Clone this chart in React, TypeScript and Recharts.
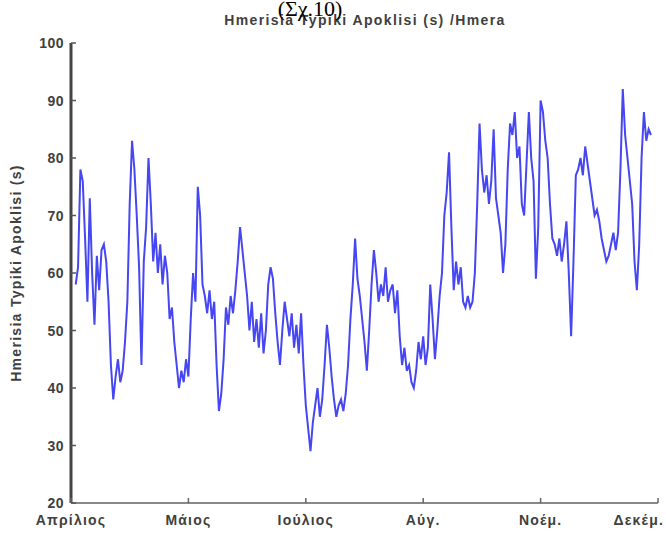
import React from "react";
import { LineChart, Line, XAxis, YAxis } from "recharts";

// x axis: day index from the start of the series, labelled by month
const DAY_TICKS = [0, 50, 100, 150, 200, 250];
const MONTH_LABELS = ["Απρίλιος", "Μάιος", "Ιούλιος", "Αύγ.", "Νοέμ.", "Δεκέμ."];
const Y_TICKS = [20, 30, 40, 50, 60, 70, 80, 90, 100];
const FIRST_DAY = 2;

// daily standard deviation (s)
const STD_DEV = [
  58, 61, 78, 76, 66, 55, 73, 60, 51, 63,
  57, 64, 65, 62, 55, 44, 38, 42, 45, 41,
  43, 48, 55, 72, 83, 78, 70, 61, 44, 62,
  68, 80, 72, 62, 67, 60, 65, 58, 63, 60,
  52, 54, 48, 44, 40, 43, 41, 45, 42, 52,
  60, 55, 75, 70, 58, 56, 53, 57, 52, 55,
  44, 36, 39, 45, 54, 51, 56, 53, 57, 62,
  68, 64, 60, 56, 50, 55, 48, 52, 47, 53,
  46, 50, 58, 61, 59, 53, 48, 44, 50, 55,
  52, 49, 53, 47, 51, 46, 53, 44, 37, 33,
  29, 34, 37, 40, 35, 38, 44, 51, 47, 42,
  38, 35, 37, 38, 36, 39, 44, 52, 58, 66,
  59, 56, 52, 48, 43, 50, 58, 64, 60, 55,
  58, 56, 61, 55, 57, 58, 53, 57, 49, 44,
  47, 43, 44, 41, 40, 43, 48, 45, 49, 44,
  47, 58, 52, 45, 50, 56, 60, 70, 74, 81,
  68, 57, 62, 58, 61, 55, 54, 56, 54, 55,
  60, 72, 86, 78, 74, 77, 72, 76, 85, 73,
  70, 67, 60, 65, 78, 86, 84, 88, 80, 82,
  72, 70, 79, 88, 80, 76, 59, 68, 90, 88,
  83, 80, 72, 66, 65, 63, 66, 62, 65, 69,
  60, 49, 62, 77, 78, 80, 77, 82, 79, 76,
  73, 70, 71, 69, 66, 64, 62, 63, 65, 67,
  64, 67, 78, 92, 84, 80, 76, 72, 62, 57,
  65, 80, 88, 83, 85, 84,
];

const chartData = STD_DEV.map((v, i) => ({ day: FIRST_DAY + i, sd: v }));

const FONT = "'Liberation Sans', Arial, sans-serif";
const TEXT_COLOR = "#404040";
const TICK_LEN = 5;
const X_MARGIN = 12;
const Y_MARGIN = 7;

function BottomTick({ x, y, payload, index }: any) {
  const axisY = y - X_MARGIN;
  const label = MONTH_LABELS[DAY_TICKS.indexOf(payload.value)] ?? "";
  const last = index === DAY_TICKS.length - 1;
  return (
    <g>
      <line x1={x} x2={x} y1={axisY} y2={axisY - TICK_LEN} stroke="#666" strokeWidth={1.5} />
      <text
        x={last ? x + 6 : x}
        y={axisY + 22}
        textAnchor={last ? "end" : "middle"}
        fontFamily={FONT}
        fontWeight="bold"
        fontSize={14}
        letterSpacing={1.2}
        fill={TEXT_COLOR}
      >
        {label}
      </text>
    </g>
  );
}

function LeftTick({ x, y, payload }: any) {
  const axisX = x + Y_MARGIN;
  return (
    <g>
      <line x1={axisX} x2={axisX + TICK_LEN} y1={y} y2={y} stroke="#555" strokeWidth={1.5} />
      <text
        x={x}
        y={y}
        dy="0.36em"
        textAnchor="end"
        fontFamily={FONT}
        fontWeight="bold"
        fontSize={14}
        letterSpacing={0.5}
        fill={TEXT_COLOR}
      >
        {payload.value}
      </text>
    </g>
  );
}

function TopTick({ x, y }: any) {
  return <line x1={x} x2={x} y1={y} y2={y + TICK_LEN} stroke="#888" strokeWidth={1.5} />;
}

function RightTick({ x, y }: any) {
  return <line x1={x} x2={x - TICK_LEN} y1={y} y2={y} stroke="#888" strokeWidth={1.5} />;
}

export default function App() {
  return (
    <div style={{ position: "relative", width: 666, height: 534, background: "#fff" }}>
      <style>{"body{margin:0}"}</style>
      <LineChart
        width={666}
        height={534}
        data={chartData}
        margin={{ top: 43, right: 8, bottom: 0, left: 0 }}
      >
        <XAxis
          xAxisId="bottom"
          type="number"
          dataKey="day"
          domain={[0, 250]}
          ticks={DAY_TICKS}
          interval={0}
          height={31}
          tickSize={0}
          tickMargin={X_MARGIN}
          tick={<BottomTick />}
          axisLine={{ stroke: "#888", strokeWidth: 2 }}
          allowDataOverflow
        />
        <XAxis
          xAxisId="top"
          orientation="top"
          type="number"
          dataKey="day"
          domain={[0, 250]}
          ticks={DAY_TICKS}
          interval={0}
          height={0}
          tickSize={0}
          tickMargin={0}
          tick={<TopTick />}
          axisLine={{ stroke: "#999", strokeWidth: 2 }}
          allowDataOverflow
        />
        <YAxis
          yAxisId="left"
          type="number"
          domain={[20, 100]}
          ticks={Y_TICKS}
          interval={0}
          width={71}
          tickSize={0}
          tickMargin={Y_MARGIN}
          tick={<LeftTick />}
          axisLine={{ stroke: "#444", strokeWidth: 3 }}
          allowDataOverflow
        />
        <YAxis
          yAxisId="right"
          orientation="right"
          type="number"
          domain={[20, 100]}
          ticks={Y_TICKS}
          interval={0}
          width={0}
          tickSize={0}
          tickMargin={0}
          tick={<RightTick />}
          axisLine={{ stroke: "#999", strokeWidth: 2 }}
          allowDataOverflow
        />
        <Line
          xAxisId="bottom"
          yAxisId="left"
          type="linear"
          dataKey="sd"
          stroke="#4646f2"
          strokeWidth={2}
          dot={false}
          isAnimationActive={false}
        />
      </LineChart>

      {/* titles and y label drawn over the chart */}
      <svg
        width={666}
        height={534}
        style={{ position: "absolute", left: 0, top: 0, pointerEvents: "none" }}
      >
        <text
          x={365}
          y={25}
          textAnchor="middle"
          fontFamily={FONT}
          fontWeight="bold"
          fontSize={14}
          letterSpacing={1.4}
          fill={TEXT_COLOR}
        >
          Hmerisia Typiki Apoklisi (s) /Hmera
        </text>
        <text
          x={310}
          y={16}
          textAnchor="middle"
          fontFamily="'Liberation Serif', 'Times New Roman', serif"
          fontSize={22}
          fill="#000"
        >
          (Σχ.10)
        </text>
        <text
          x={0}
          y={0}
          transform="translate(21 273) rotate(-90)"
          textAnchor="middle"
          fontFamily={FONT}
          fontWeight="bold"
          fontSize={14}
          letterSpacing={1.3}
          fill={TEXT_COLOR}
        >
          Hmerisia Typiki Apoklisi (s)
        </text>
      </svg>
    </div>
  );
}
